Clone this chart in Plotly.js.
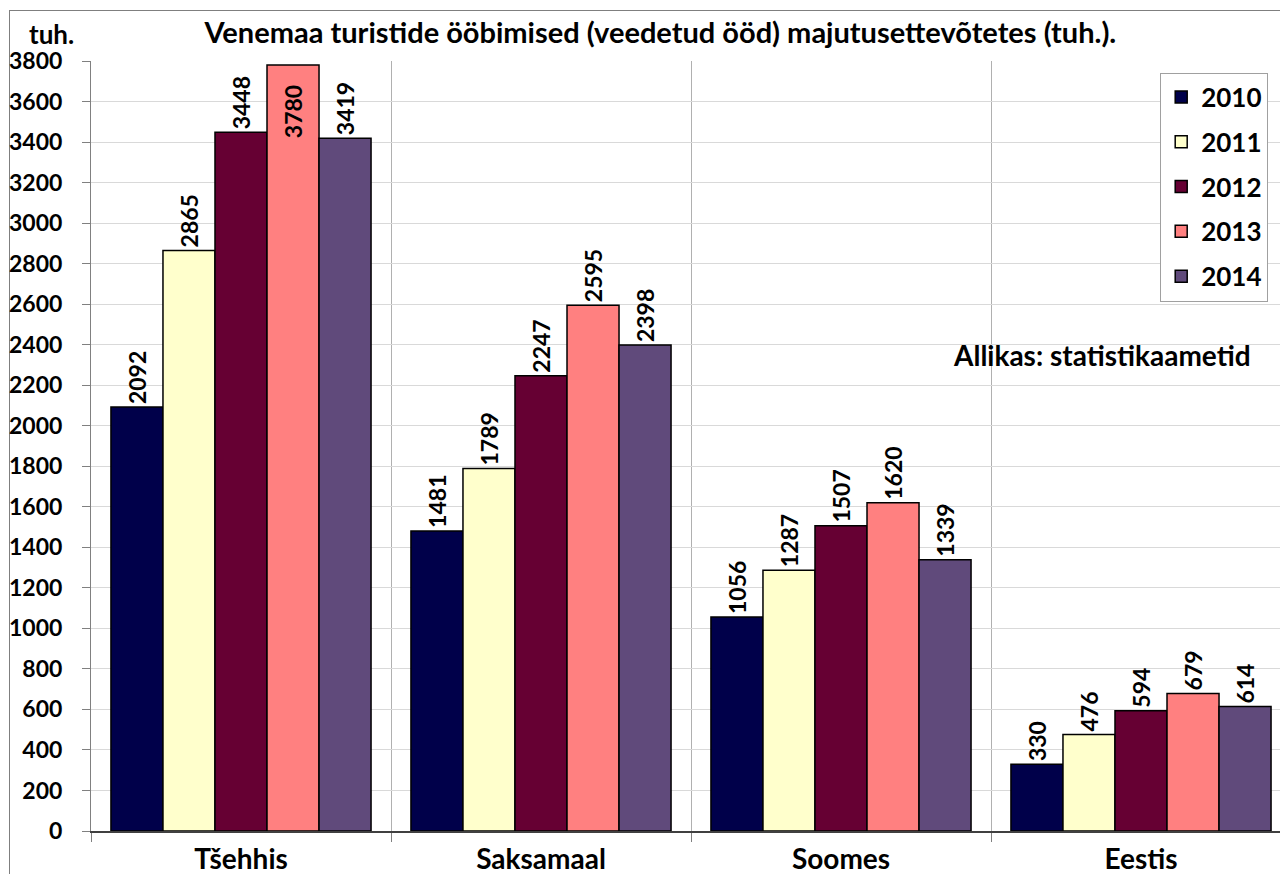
<!DOCTYPE html>
<html><head><meta charset="utf-8">
<script src="https://cdn.plot.ly/plotly-3.0.1.min.js"></script>
<style>
html,body{margin:0;padding:0;background:#fff;overflow:hidden;width:1280px;height:874px;}
#frame{position:absolute;left:9px;top:10px;width:1300px;height:900px;border-left:1.5px solid #7f7f7f;border-top:1.5px solid #7f7f7f;}
#chart{position:absolute;left:0;top:0;width:1300px;height:874px;}
</style></head>
<body>
<div id="frame"></div>
<div id="chart"></div>
<script>
const categories = ["Tšehhis", "Saksamaal", "Soomes", "Eestis"];
const years = ["2010", "2011", "2012", "2013", "2014"];
const v2010 = [2092, 1481, 1056, 330];
const v2011 = [2865, 1789, 1287, 476];
const v2012 = [3448, 2247, 1507, 594];
const v2013 = [3780, 2595, 1620, 679];
const v2014 = [3419, 2398, 1339, 614];
const colors = ["#00004A", "#FFFFCC", "#660033", "#FF8080", "#604A7B"];
const series = [v2010, v2011, v2012, v2013, v2014];
const YMAX = 3800;
const FONT = "Lato, 'DejaVu Sans', sans-serif";
const fits = v => v <= 3700;

const traces = series.map((vals, i) => ({
  type: "bar",
  name: years[i],
  x: categories,
  y: vals,
  text: vals.map(v => fits(v) ? String(v) + "\u00a0" : String(v) + "\u00a0\u00a0\u00a0"),
  textposition: vals.map(v => fits(v) ? "outside" : "inside"),
  insidetextanchor: "end",
  constraintext: "none",
  textangle: -90,
  cliponaxis: false,
  textfont: {family: FONT, size: 23, color: "#000", weight: 700},
  insidetextfont: {family: FONT, size: 23, color: "#000", weight: 700},
  outsidetextfont: {family: FONT, size: 23, color: "#000", weight: 700},
  marker: {color: colors[i], line: {color: "#000", width: 1.5}},
  legendgroup: "g" + i
}));

const layout = {
  width: 1300, height: 874,
  margin: {l: 91, r: 9, t: 61, b: 43},
  paper_bgcolor: "rgba(0,0,0,0)",
  plot_bgcolor: "rgba(0,0,0,0)",
  barmode: "group",
  bargap: 0.133,
  bargroupgap: 0,
  font: {family: FONT, color: "#000"},
  title: {
    text: "<b>Venemaa turistide ööbimised (veedetud ööd) majutusettevõtetes (tuh.).</b>",
    font: {family: FONT, size: 29, color: "#000"},
    x: 0.508, xanchor: "center", y: 0.962, yanchor: "middle"
  },
  xaxis: {
    type: "category",
    range: [-0.5, 3.5],
    tickson: "boundaries",
    ticks: "outside", ticklen: 9, tickcolor: "#808080",
    showgrid: true, gridcolor: "#b0b0b0", gridwidth: 1,
    showline: true, linecolor: "#404040", linewidth: 1.5,
    tickfont: {family: FONT, size: 28, color: "#000", weight: 700},
    ticklabelstandoff: 3,
    automargin: false
  },
  yaxis: {
    range: [0, YMAX],
    dtick: 200,
    ticks: "outside", ticklen: 8, tickcolor: "#808080",
    showgrid: true, gridcolor: "#d9d9d9", gridwidth: 1,
    showline: true, linecolor: "#808080", linewidth: 1,
    zeroline: false,
    tickfont: {family: FONT, size: 23, color: "#000", weight: 700},
    ticklabelstandoff: 15,
    automargin: false
  },
  showlegend: true,
  legend: {
    x: 0.981, xanchor: "right", y: 0.985, yanchor: "top",
    bgcolor: "#fff", bordercolor: "#a0a0a0", borderwidth: 1,
    font: {family: FONT, size: 26, color: "#000", weight: 700},
    traceorder: "grouped", tracegroupgap: 8
  },
  annotations: [
    {text: "<b>tuh.</b>", xref: "paper", yref: "paper", x: -0.053, y: 1.035, xanchor: "left", yanchor: "middle", showarrow: false, font: {family: FONT, size: 26, color: "#000"}},
    {text: "<b>Allikas: statistikaametid</b>", xref: "paper", yref: "paper", x: 0.968, y: 0.618, xanchor: "right", yanchor: "middle", showarrow: false, font: {family: FONT, size: 28, color: "#000"}}
  ]
};

Plotly.newPlot("chart", traces, layout, {displayModeBar: false, staticPlot: true});
</script>
</body></html>
